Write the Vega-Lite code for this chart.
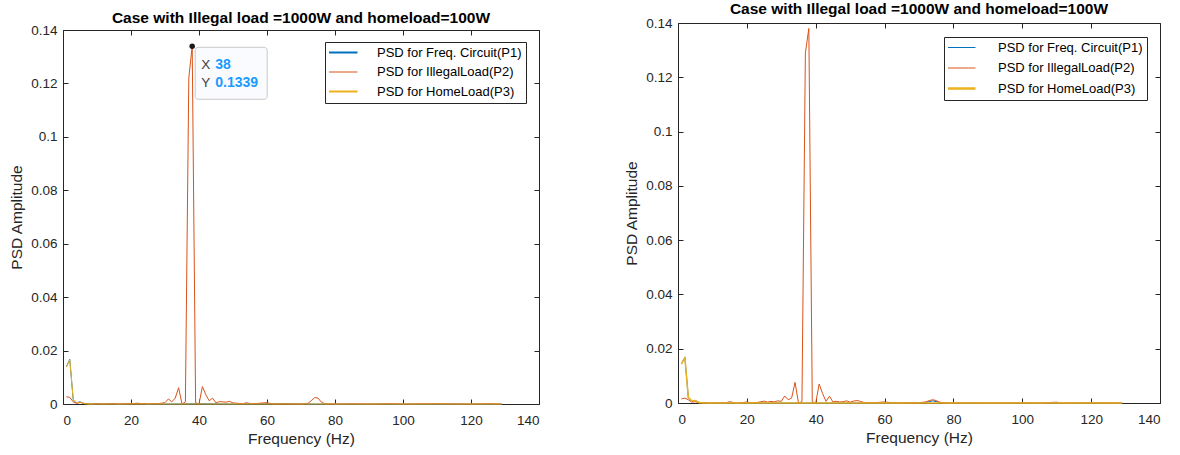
{
  "$schema": "https://vega.github.io/schema/vega-lite/v6.json",
  "background": "white",
  "padding": {"left": 9, "top": 1, "right": 0, "bottom": 0},
  "spacing": 84,
  "resolve": {"scale": {"color": "independent"}, "legend": {"color": "independent"}},
  "config": {
    "font": "Liberation Sans",
    "view": {"stroke": "#262626", "strokeWidth": 1},
    "axis": {
      "domain": false, "grid": false, "domainColor": "#262626", "domainWidth": 1,
      "tickColor": "#262626", "tickSize": -5, "tickWidth": 1,
      "labelColor": "#262626", "labelFontSize": 13.5, "labelFont": "Liberation Sans",
      "titleColor": "#262626", "titleFontSize": 15.5, "titleFontWeight": "normal", "titleFont": "Liberation Sans"
    },
    "axisLeft": {"labelPadding": 11, "titlePadding": 6},
    "axisBottom": {"labelPadding": 14, "titlePadding": 5},
    "title": {"fontSize": 15.5, "fontWeight": "bold", "color": "#000000", "font": "Liberation Sans", "frame": "group"},
    "legend": {
      "orient": "none", "title": null, "symbolType": "stroke", "strokeColor": "#262626", "fillColor": "white",
      "padding": 4, "labelFontSize": 13, "labelColor": "#000000", "labelFont": "Liberation Sans", "labelLimit": 0,
      "clipHeight": 13, "symbolOpacity": 1
    }
  },
  "datasets": {
    "left": [
      {"s":"P1","f":1,"v":0.014},{"s":"P1","f":2,"v":0.0167},{"s":"P1","f":3,"v":0.0016},{"s":"P1","f":4,"v":0.0004},{"s":"P1","f":5,"v":0.0008},{"s":"P1","f":6,"v":0.0003},{"s":"P1","f":7,"v":0.0001},{"s":"P1","f":8,"v":0},{"s":"P1","f":10,"v":0.0001},{"s":"P1","f":15,"v":0},{"s":"P1","f":20,"v":0.0001},{"s":"P1","f":30,"v":0},{"s":"P1","f":40,"v":0.0001},{"s":"P1","f":50,"v":0},{"s":"P1","f":60,"v":0.0001},{"s":"P1","f":75,"v":0},{"s":"P1","f":90,"v":0},{"s":"P1","f":110,"v":0},{"s":"P1","f":129,"v":0},
      {"s":"P2","f":1,"v":0.0027},{"s":"P2","f":2,"v":0.0025},{"s":"P2","f":3,"v":0.0008},{"s":"P2","f":4,"v":0.0002},{"s":"P2","f":5,"v":0.0006},{"s":"P2","f":6,"v":0.0002},{"s":"P2","f":7,"v":0.0001},{"s":"P2","f":8,"v":0},{"s":"P2","f":10,"v":0.0001},{"s":"P2","f":12,"v":0},{"s":"P2","f":15,"v":0.0002},{"s":"P2","f":16,"v":0},{"s":"P2","f":20,"v":0.0001},{"s":"P2","f":22,"v":0.0003},{"s":"P2","f":23,"v":0.0001},{"s":"P2","f":24,"v":0.0002},{"s":"P2","f":25,"v":0},{"s":"P2","f":27,"v":0.0002},{"s":"P2","f":28,"v":0.0001},{"s":"P2","f":29,"v":0.0003},{"s":"P2","f":30,"v":0.0005},{"s":"P2","f":31,"v":0.0019},{"s":"P2","f":32,"v":0.0008},{"s":"P2","f":33,"v":0.0022},{"s":"P2","f":34,"v":0.0061},{"s":"P2","f":35,"v":0},{"s":"P2","f":36,"v":0.0008},{"s":"P2","f":37,"v":0.122},{"s":"P2","f":38,"v":0.1339},{"s":"P2","f":39,"v":0.0005},{"s":"P2","f":40,"v":0},{"s":"P2","f":41,"v":0.0065},{"s":"P2","f":42,"v":0.0035},{"s":"P2","f":43,"v":0.0012},{"s":"P2","f":44,"v":0.0022},{"s":"P2","f":45,"v":0.0004},{"s":"P2","f":46,"v":0.0009},{"s":"P2","f":47,"v":0.0008},{"s":"P2","f":48,"v":0.0007},{"s":"P2","f":49,"v":0.001},{"s":"P2","f":50,"v":0.0004},{"s":"P2","f":51,"v":0.0003},{"s":"P2","f":52,"v":0.0002},{"s":"P2","f":53,"v":0.0001},{"s":"P2","f":54,"v":0.0005},{"s":"P2","f":55,"v":0.0001},{"s":"P2","f":57,"v":0.0002},{"s":"P2","f":60,"v":0.0005},{"s":"P2","f":61,"v":0.0002},{"s":"P2","f":62,"v":0},{"s":"P2","f":65,"v":0.0001},{"s":"P2","f":70,"v":0},{"s":"P2","f":72,"v":0.0002},{"s":"P2","f":73,"v":0.0012},{"s":"P2","f":74,"v":0.0024},{"s":"P2","f":75,"v":0.0022},{"s":"P2","f":76,"v":0.0007},{"s":"P2","f":77,"v":0.0001},{"s":"P2","f":80,"v":0},{"s":"P2","f":85,"v":0.0001},{"s":"P2","f":90,"v":0},{"s":"P2","f":95,"v":0.0001},{"s":"P2","f":100,"v":0},{"s":"P2","f":110,"v":0.0001},{"s":"P2","f":120,"v":0},{"s":"P2","f":125,"v":0.0001},{"s":"P2","f":129,"v":0},
      {"s":"P3","f":1,"v":0.0138},{"s":"P3","f":2,"v":0.0165},{"s":"P3","f":3,"v":0.0018},{"s":"P3","f":4,"v":0.0005},{"s":"P3","f":5,"v":0.0008},{"s":"P3","f":6,"v":0.0002},{"s":"P3","f":7,"v":0},{"s":"P3","f":10,"v":0},{"s":"P3","f":20,"v":0},{"s":"P3","f":40,"v":0},{"s":"P3","f":60,"v":0},{"s":"P3","f":80,"v":0},{"s":"P3","f":100,"v":0},{"s":"P3","f":129,"v":0}
    ],
    "right": [
      {"s":"P1","f":1,"v":0.0145},{"s":"P1","f":2,"v":0.0168},{"s":"P1","f":3,"v":0.002},{"s":"P1","f":4,"v":0.0007},{"s":"P1","f":5,"v":0.0009},{"s":"P1","f":6,"v":0.0003},{"s":"P1","f":7,"v":0.0001},{"s":"P1","f":8,"v":0},{"s":"P1","f":20,"v":0},{"s":"P1","f":40,"v":0},{"s":"P1","f":60,"v":0},{"s":"P1","f":72,"v":0.0002},{"s":"P1","f":74,"v":0.0008},{"s":"P1","f":76,"v":0.0002},{"s":"P1","f":80,"v":0},{"s":"P1","f":100,"v":0},{"s":"P1","f":129,"v":0},
      {"s":"P2","f":1,"v":0.0015},{"s":"P2","f":2,"v":0.0018},{"s":"P2","f":3,"v":0.0012},{"s":"P2","f":4,"v":0.0003},{"s":"P2","f":5,"v":0.0005},{"s":"P2","f":6,"v":0.0001},{"s":"P2","f":8,"v":0.0002},{"s":"P2","f":9,"v":0},{"s":"P2","f":12,"v":0.0001},{"s":"P2","f":14,"v":0.0001},{"s":"P2","f":15,"v":0.0005},{"s":"P2","f":16,"v":0.0002},{"s":"P2","f":17,"v":0},{"s":"P2","f":19,"v":0.0002},{"s":"P2","f":20,"v":0.0004},{"s":"P2","f":21,"v":0.0001},{"s":"P2","f":23,"v":0.0002},{"s":"P2","f":25,"v":0.0007},{"s":"P2","f":26,"v":0.0003},{"s":"P2","f":27,"v":0.0006},{"s":"P2","f":28,"v":0.0004},{"s":"P2","f":29,"v":0.0008},{"s":"P2","f":30,"v":0.0006},{"s":"P2","f":31,"v":0.0026},{"s":"P2","f":32,"v":0.0012},{"s":"P2","f":33,"v":0.0018},{"s":"P2","f":34,"v":0.0076},{"s":"P2","f":35,"v":0},{"s":"P2","f":36,"v":0.0005},{"s":"P2","f":37,"v":0.129},{"s":"P2","f":38,"v":0.138},{"s":"P2","f":39,"v":0.0005},{"s":"P2","f":40,"v":0},{"s":"P2","f":41,"v":0.007},{"s":"P2","f":42,"v":0.0035},{"s":"P2","f":43,"v":0.0006},{"s":"P2","f":44,"v":0.0025},{"s":"P2","f":45,"v":0.0004},{"s":"P2","f":46,"v":0.0006},{"s":"P2","f":47,"v":0.0004},{"s":"P2","f":48,"v":0.0005},{"s":"P2","f":49,"v":0.0008},{"s":"P2","f":50,"v":0.0003},{"s":"P2","f":51,"v":0.0007},{"s":"P2","f":52,"v":0.0009},{"s":"P2","f":53,"v":0.0006},{"s":"P2","f":54,"v":0.0002},{"s":"P2","f":56,"v":0.0001},{"s":"P2","f":58,"v":0.0002},{"s":"P2","f":60,"v":0.0004},{"s":"P2","f":62,"v":0.0001},{"s":"P2","f":65,"v":0},{"s":"P2","f":70,"v":0.0001},{"s":"P2","f":72,"v":0.0004},{"s":"P2","f":73,"v":0.0009},{"s":"P2","f":74,"v":0.0012},{"s":"P2","f":75,"v":0.0009},{"s":"P2","f":76,"v":0.0003},{"s":"P2","f":78,"v":0},{"s":"P2","f":85,"v":0.0001},{"s":"P2","f":90,"v":0},{"s":"P2","f":100,"v":0.0001},{"s":"P2","f":105,"v":0},{"s":"P2","f":110,"v":0.0003},{"s":"P2","f":111,"v":0},{"s":"P2","f":120,"v":0.0001},{"s":"P2","f":129,"v":0},
      {"s":"P3","f":1,"v":0.0143},{"s":"P3","f":2,"v":0.0166},{"s":"P3","f":3,"v":0.0021},{"s":"P3","f":4,"v":0.0008},{"s":"P3","f":5,"v":0.0009},{"s":"P3","f":6,"v":0.0002},{"s":"P3","f":7,"v":0},{"s":"P3","f":20,"v":0},{"s":"P3","f":40,"v":0},{"s":"P3","f":60,"v":0},{"s":"P3","f":80,"v":0},{"s":"P3","f":100,"v":0},{"s":"P3","f":129,"v":0}
    ],
    "tip": [{"f": 38, "v": 0.1339}]
  },
  "hconcat": [
    {
      "width": 476, "height": 381,
      "view": {"stroke": null},
      "title": {"text": "Case with Illegal load =1000W and homeload=100W", "offset": -3},
      "resolve": {"axis": {"x": "independent", "y": "independent"}},
      "layer": [
        {
          "data": {"name": "left"},
          "transform": [{"filter": "datum.s == 'P1'"}],
          "mark": {"type": "line", "strokeWidth": 1, "color": "#0072BD"},
          "encoding": {
            "x": {"field": "f", "type": "quantitative", "scale": {"domain": [0, 140], "nice": false}, "axis": {"values": [0, 20, 40, 60, 80, 100, 120, 140], "title": "Frequency (Hz)", "domain": true}},
            "y": {"field": "v", "type": "quantitative", "scale": {"domain": [0, 0.14], "nice": false, "range": [381, 7]}, "axis": {"values": [0, 0.02, 0.04, 0.06, 0.08, 0.1, 0.12, 0.14], "format": ".2~f", "title": "PSD Amplitude", "domain": true}}
          }
        },
        {
          "data": {"name": "left"},
          "transform": [{"filter": "datum.s == 'P2'"}],
          "mark": {"type": "line", "strokeWidth": 1, "color": "#D95319"},
          "encoding": {"x": {"field": "f", "type": "quantitative", "axis": null}, "y": {"field": "v", "type": "quantitative", "axis": null}}
        },
        {
          "data": {"name": "left"},
          "transform": [{"filter": "datum.s == 'P3'"}],
          "mark": {"type": "line", "strokeWidth": 1, "color": "#EDB120"},
          "encoding": {"x": {"field": "f", "type": "quantitative", "axis": null}, "y": {"field": "v", "type": "quantitative", "axis": null}}
        },
        {
          "data": {"name": "left"},
          "transform": [{"filter": "datum.f == 1"}],
          "mark": {"type": "line"},
          "encoding": {
            "x": {"field": "f", "type": "quantitative", "axis": null},
            "y": {"field": "v", "type": "quantitative", "axis": null},
            "color": {"field": "s", "type": "nominal", "scale": {"domain": ["P1", "P2", "P3"], "range": ["#0072BD", "#D95319", "#EDB120"]},
              "legend": {"legendX": 262, "legendY": 19, "symbolSize": 1936, "labelOffset": 35, "rowPadding": 5.5,
                "labelExpr": "datum.value == 'P1' ? 'PSD for Freq. Circuit(P1)' : datum.value == 'P2' ? 'PSD for IllegalLoad(P2)' : 'PSD for HomeLoad(P3)'",
                "encode": {"symbols": {"update": {"strokeWidth": {"signal": "datum.value == 'P2' ? 1 : 2"}}}}}}
          }
        },
        {
          "data": {"name": "left"},
          "mark": {"type": "point", "opacity": 0},
          "encoding": {
            "x": {"field": "f", "type": "quantitative", "axis": {"orient": "top", "offset": -7, "domain": true, "values": [0, 20, 40, 60, 80, 100, 120, 140], "labels": false, "title": null}},
            "y": {"field": "v", "type": "quantitative", "axis": {"orient": "right", "domain": true, "values": [0, 0.02, 0.04, 0.06, 0.08, 0.1, 0.12, 0.14], "labels": false, "title": null}}
          }
        },
        {
          "data": {"name": "tip"},
          "mark": {"type": "rect", "xOffset": 3, "x2Offset": 75, "yOffset": 1, "y2Offset": 53, "fill": "#fafbfe", "stroke": "#c8c8c8", "strokeWidth": 1, "cornerRadius": 3},
          "encoding": {
            "x": {"field": "f", "type": "quantitative", "axis": null}, "x2": {"field": "f"},
            "y": {"field": "v", "type": "quantitative", "axis": null}, "y2": {"field": "v"}
          }
        },
        {
          "data": {"name": "tip"},
          "mark": {"type": "point", "filled": true, "color": "#1a1a1a", "size": 30, "opacity": 1},
          "encoding": {"x": {"field": "f", "type": "quantitative", "axis": null}, "y": {"field": "v", "type": "quantitative", "axis": null}}
        },
        {
          "data": {"name": "tip"},
          "mark": {"type": "text", "text": "X", "align": "left", "baseline": "middle", "dx": 9, "dy": 19, "fontSize": 13.5, "color": "#404040"},
          "encoding": {"x": {"field": "f", "type": "quantitative", "axis": null}, "y": {"field": "v", "type": "quantitative", "axis": null}}
        },
        {
          "data": {"name": "tip"},
          "mark": {"type": "text", "text": "Y", "align": "left", "baseline": "middle", "dx": 9, "dy": 37, "fontSize": 13.5, "color": "#404040"},
          "encoding": {"x": {"field": "f", "type": "quantitative", "axis": null}, "y": {"field": "v", "type": "quantitative", "axis": null}}
        },
        {
          "data": {"name": "tip"},
          "mark": {"type": "text", "align": "left", "baseline": "middle", "dx": 23, "dy": 19, "fontSize": 14, "fontWeight": "bold", "color": "#1a9bff"},
          "encoding": {"x": {"field": "f", "type": "quantitative", "axis": null}, "y": {"field": "v", "type": "quantitative", "axis": null}, "text": {"field": "f", "type": "quantitative"}}
        },
        {
          "data": {"name": "tip"},
          "mark": {"type": "text", "align": "left", "baseline": "middle", "dx": 23, "dy": 37, "fontSize": 14, "fontWeight": "bold", "color": "#1a9bff"},
          "encoding": {"x": {"field": "f", "type": "quantitative", "axis": null}, "y": {"field": "v", "type": "quantitative", "axis": null}, "text": {"field": "v", "type": "quantitative", "format": ".4f"}}
        }
      ]
    },
    {
      "width": 482, "height": 380,
      "title": {"text": "Case with Illegal load =1000W and homeload=100W", "offset": -1},
      "resolve": {"axis": {"x": "independent", "y": "independent"}},
      "layer": [
        {
          "data": {"name": "right"},
          "transform": [{"filter": "datum.s == 'P1'"}],
          "mark": {"type": "line", "strokeWidth": 1, "color": "#0072BD"},
          "encoding": {
            "x": {"field": "f", "type": "quantitative", "scale": {"domain": [0, 140], "nice": false}, "axis": {"values": [0, 20, 40, 60, 80, 100, 120, 140], "title": "Frequency (Hz)"}},
            "y": {"field": "v", "type": "quantitative", "scale": {"domain": [0, 0.14], "nice": false}, "axis": {"values": [0, 0.02, 0.04, 0.06, 0.08, 0.1, 0.12, 0.14], "format": ".2~f", "title": "PSD Amplitude"}}
          }
        },
        {
          "data": {"name": "right"},
          "transform": [{"filter": "datum.s == 'P2'"}],
          "mark": {"type": "line", "strokeWidth": 1, "color": "#D95319"},
          "encoding": {"x": {"field": "f", "type": "quantitative", "axis": null}, "y": {"field": "v", "type": "quantitative", "axis": null}}
        },
        {
          "data": {"name": "right"},
          "transform": [{"filter": "datum.s == 'P3'"}],
          "mark": {"type": "line", "strokeWidth": 1.5, "color": "#EDB120"},
          "encoding": {"x": {"field": "f", "type": "quantitative", "axis": null}, "y": {"field": "v", "type": "quantitative", "axis": null}}
        },
        {
          "data": {"name": "right"},
          "transform": [{"filter": "datum.f == 1"}],
          "mark": {"type": "line"},
          "encoding": {
            "x": {"field": "f", "type": "quantitative", "axis": null},
            "y": {"field": "v", "type": "quantitative", "axis": null},
            "color": {"field": "s", "type": "nominal", "scale": {"domain": ["P1", "P2", "P3"], "range": ["#0072BD", "#D95319", "#EDB120"]},
              "legend": {"legendX": 266, "legendY": 14, "symbolSize": 1764, "labelOffset": 37, "rowPadding": 6.5,
                "labelExpr": "datum.value == 'P1' ? 'PSD for Freq. Circuit(P1)' : datum.value == 'P2' ? 'PSD for IllegalLoad(P2)' : 'PSD for HomeLoad(P3)'",
                "encode": {"symbols": {"update": {"strokeWidth": {"signal": "datum.value == 'P3' ? 2.5 : 1"}}}}}}
          }
        },
        {
          "data": {"name": "right"},
          "mark": {"type": "point", "opacity": 0},
          "encoding": {
            "x": {"field": "f", "type": "quantitative", "axis": {"orient": "top", "values": [0, 20, 40, 60, 80, 100, 120, 140], "labels": false, "title": null}},
            "y": {"field": "v", "type": "quantitative", "axis": {"orient": "right", "values": [0, 0.02, 0.04, 0.06, 0.08, 0.1, 0.12, 0.14], "labels": false, "title": null}}
          }
        }
      ]
    }
  ]
}
